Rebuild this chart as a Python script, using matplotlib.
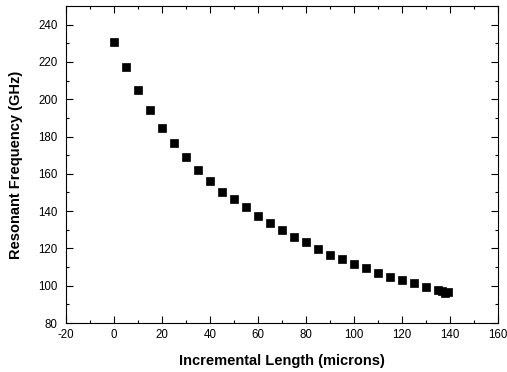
import matplotlib
matplotlib.use("Agg")
import matplotlib.pyplot as plt
from matplotlib.ticker import MultipleLocator

plt.rcParams['font.family'] = ['Liberation Sans', 'DejaVu Sans']
plt.rcParams['axes.unicode_minus'] = False

length = [0, 5, 10, 15, 20, 25, 30, 35, 40, 45, 50, 55, 60, 65, 70, 75, 80, 85,
          90, 95, 100, 105, 110, 115, 120, 125, 130, 135, 136.5, 138, 139]
freq = [230.5, 217.2, 204.8, 194.3, 184.8, 176.3, 168.8, 161.8, 156.2, 150.5,
        146.7, 142.1, 137.2, 133.6, 129.7, 125.9, 123.2, 119.5, 116.4, 114.4,
        111.6, 109.6, 106.9, 104.9, 103.1, 101.3, 99.4, 97.6, 97.0, 96.3, 96.4]

fig = plt.figure(figsize=(5.07, 3.72), dpi=100)
ax = fig.add_axes([66/507, 1-323/372, (498-66)/507, (323-6)/372])
ax.plot(length, freq, linestyle='none', marker='s', color='black', markersize=5.2,
        markeredgewidth=0.5)
ax.set_xlim(-20, 160)
ax.set_ylim(80, 250)
ax.xaxis.set_major_locator(MultipleLocator(20))
ax.xaxis.set_minor_locator(MultipleLocator(10))
ax.yaxis.set_major_locator(MultipleLocator(20))
ax.yaxis.set_minor_locator(MultipleLocator(10))
ax.tick_params(which='both', direction='in', top=True, right=True, labelsize=8.3, width=0.8)
ax.tick_params(which='major', length=5)
ax.tick_params(which='minor', length=2.5)
ax.tick_params(axis='y', pad=6)
ax.tick_params(axis='x', pad=4)
ax.set_yticks(range(80, 250, 20))
for s in ax.spines.values():
    s.set_linewidth(0.8)
ax.set_xlabel('Incremental Length (microns)', fontsize=10.5, fontweight='bold', labelpad=10)
ax.set_ylabel('Resonant Frequency (GHz)', fontsize=10.5, fontweight='bold', labelpad=11)
fig.savefig('out.png', dpi=100)
